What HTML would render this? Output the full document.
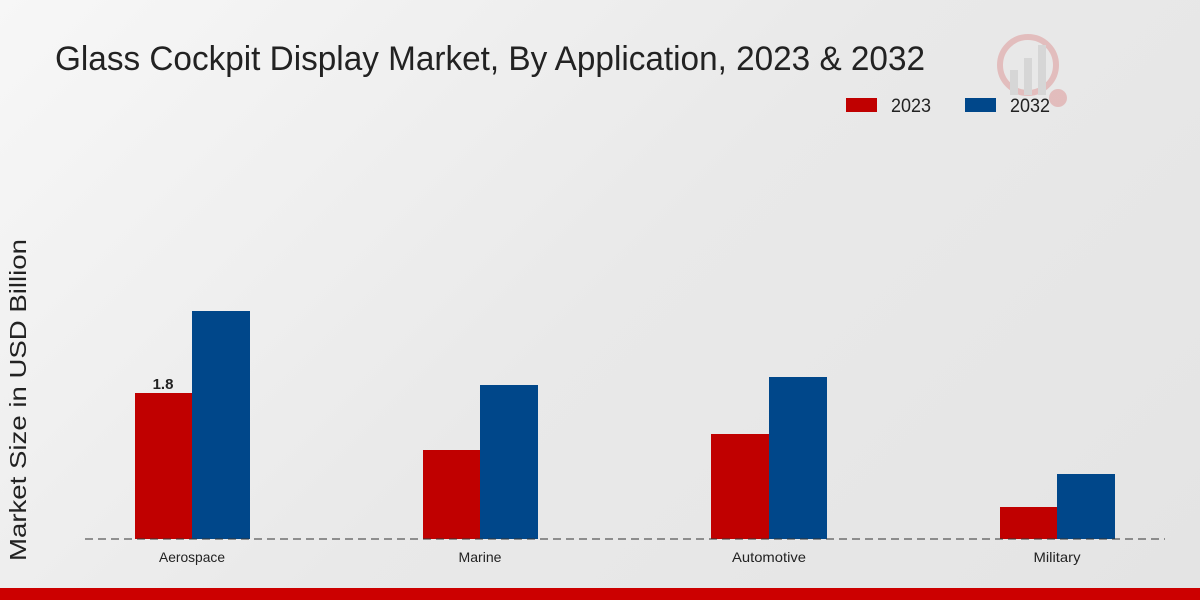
<!DOCTYPE html>
<html><head><meta charset="utf-8"><style>
body{margin:0;width:1200px;height:600px;overflow:hidden;font-family:"Liberation Sans",sans-serif;}
.bg{position:absolute;left:0;top:0;width:1200px;height:600px;background:linear-gradient(135deg,#f7f7f7 0%,#e9e9e9 50%,#e4e4e4 100%);}
</style></head><body><div class="bg"></div>
<svg width="1200" height="600" style="position:absolute;left:0;top:0" font-family="Liberation Sans, sans-serif">
<text x="55" y="70" font-size="34" fill="#222" textLength="870" lengthAdjust="spacingAndGlyphs">Glass Cockpit Display Market, By Application, 2023 &amp; 2032</text>
<g opacity="0.18"><circle cx="1028" cy="65" r="28" fill="none" stroke="#c00" stroke-width="6"/><rect x="1010" y="70" width="8" height="25" fill="#888"/><rect x="1024" y="58" width="8" height="37" fill="#888"/><rect x="1038" y="45" width="8" height="50" fill="#888"/><circle cx="1058" cy="98" r="9" fill="#c00"/></g>
<rect x="846" y="98" width="31" height="14" fill="#c00000"/>
<text x="891" y="112" font-size="19" fill="#222" textLength="40" lengthAdjust="spacingAndGlyphs">2023</text>
<rect x="965" y="98" width="31" height="14" fill="#00478a"/>
<text x="1010" y="112" font-size="19" fill="#222" textLength="40" lengthAdjust="spacingAndGlyphs">2032</text>
<text transform="translate(26,400) rotate(-90)" text-anchor="middle" font-size="23" fill="#222" textLength="322" lengthAdjust="spacingAndGlyphs">Market Size in USD Billion</text>
<rect x="135" y="393" width="57" height="146" fill="#c00000"/>
<rect x="192" y="311" width="58" height="228" fill="#00478a"/>
<rect x="423" y="450" width="57" height="89" fill="#c00000"/>
<rect x="480" y="385" width="58" height="154" fill="#00478a"/>
<rect x="711" y="434" width="58" height="105" fill="#c00000"/>
<rect x="769" y="377" width="58" height="162" fill="#00478a"/>
<rect x="1000" y="507" width="57" height="32" fill="#c00000"/>
<rect x="1057" y="474" width="58" height="65" fill="#00478a"/>
<text x="163" y="389" text-anchor="middle" font-size="15" font-weight="bold" fill="#222">1.8</text>
<line x1="85" y1="539" x2="1165" y2="539" stroke="#333" stroke-width="1" stroke-dasharray="8,5"/>
<g font-size="14" fill="#222" text-anchor="middle">
<text x="192" y="562" textLength="66" lengthAdjust="spacingAndGlyphs">Aerospace</text><text x="480" y="562" textLength="43" lengthAdjust="spacingAndGlyphs">Marine</text><text x="769" y="562" textLength="74" lengthAdjust="spacingAndGlyphs">Automotive</text><text x="1057" y="562" textLength="47" lengthAdjust="spacingAndGlyphs">Military</text></g>
<rect x="0" y="588" width="1200" height="12" fill="#cc0000"/>
</svg></body></html>
